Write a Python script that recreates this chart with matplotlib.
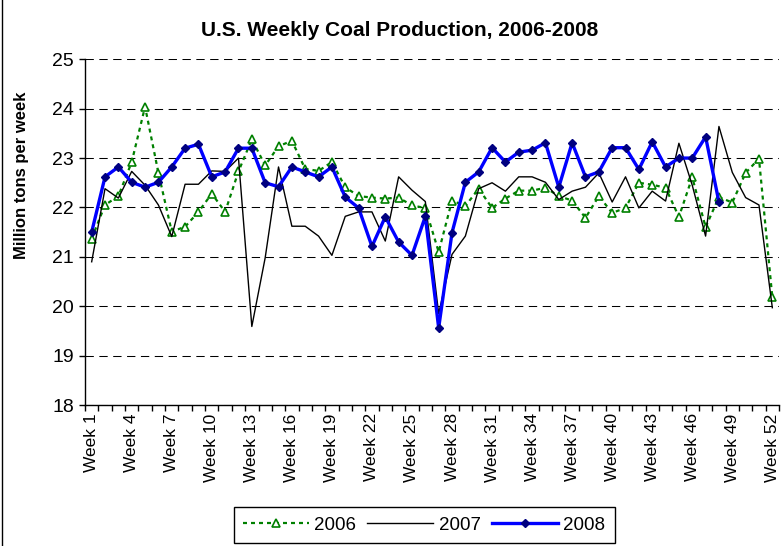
import matplotlib
matplotlib.use("Agg")
import matplotlib.pyplot as plt
from matplotlib.lines import Line2D
from matplotlib.ticker import MultipleLocator, FixedLocator
import numpy as np

plt.rcParams['font.family'] = ['Liberation Sans', 'DejaVu Sans']

weeks = [f"Week {i}" for i in range(1, 53)]
shown_labels = [f"Week {i}" for i in range(1, 53, 3)]

v2006 = [21.37, 22.05, 22.23, 22.92, 24.04, 22.70, 21.51, 21.61, 21.91, 22.28, 21.91, 22.73, 23.38,
         22.85, 23.24, 23.35, 22.78, 22.74, 22.92, 22.41, 22.23, 22.20, 22.18, 22.20, 22.04, 21.99,
         21.10, 22.14, 22.03, 22.38, 21.99, 22.18, 22.34, 22.34, 22.40, 22.23, 22.14, 21.79, 22.23,
         21.89, 21.99, 22.50, 22.46, 22.40, 21.81, 22.61, 21.60, 22.21, 22.10, 22.70, 22.99, 20.18]

v2007 = [20.90, 22.38, 22.19, 22.73, 22.45, 22.05, 21.41, 22.47, 22.47, 22.74, 22.73, 23.00, 19.59,
         20.98, 22.82, 21.62, 21.62, 21.42, 21.03, 21.82, 21.91, 21.91, 21.32, 22.62, 22.35, 22.12,
         19.85, 21.05, 21.42, 22.38, 22.50, 22.33, 22.62, 22.62, 22.51, 22.16, 22.33, 22.41, 22.70,
         22.11, 22.62, 21.99, 22.33, 22.13, 23.30, 22.45, 21.42, 23.64, 22.71, 22.20, 22.05, 19.97]

v2008 = [21.50, 22.62, 22.82, 22.51, 22.41, 22.51, 22.82, 23.20, 23.28, 22.62, 22.72, 23.20, 23.20,
         22.50, 22.42, 22.82, 22.72, 22.62, 22.82, 22.21, 21.99, 21.21, 21.81, 21.30, 21.03, 21.82,
         19.56, 21.49, 22.51, 22.72, 23.21, 22.92, 23.12, 23.16, 23.31, 22.41, 23.31, 22.62, 22.72,
         23.21, 23.21, 22.77, 23.33, 22.82, 23.00, 23.00, 23.43, 22.11]

W, H = 781, 546
fig = plt.figure(figsize=(W / 100, H / 100), dpi=100)
fig.patch.set_facecolor('white')

L, R, T, B = 85, 779, 59.3, 405
ax = fig.add_axes([L / W, 1 - B / H, (R - L) / W, (B - T) / H])

x_all = np.arange(len(weeks))
ax.plot(x_all, v2006, color='#008000', ls=(0, (1.8, 1.8)), lw=1.6,
        marker='^', ms=5.5, mfc='white', mec='#008000', mew=1.2, label='2006', zorder=3)
ax.plot(x_all, v2007, color='black', lw=1.0, label='2007', zorder=4)
ax.plot(np.arange(len(v2008)), v2008, color='#0000FF', lw=2.4,
        marker='D', ms=4.4, mfc='#000080', mec='#000080', mew=1, label='2008', zorder=5)

ax.set_xlim(-0.5, len(weeks) - 0.5)
ax.set_ylim(18, 25)
ax.yaxis.set_major_locator(MultipleLocator(1))
ax.grid(axis='y', color='black', ls=(0, (8, 5.3)), lw=0.75, zorder=1)
ax.set_axisbelow(True)

ax.spines['top'].set_visible(False)
ax.spines['right'].set_visible(False)
for s in ('left', 'bottom'):
    ax.spines[s].set_linewidth(1.0)
    ax.spines[s].set_zorder(6)

major_pos = list(range(0, len(weeks), 3))
ax.xaxis.set_major_locator(FixedLocator(major_pos))
ax.set_xticklabels(shown_labels, rotation=90, fontsize=12.5, va='top', ha='center')
ax.xaxis.set_minor_locator(FixedLocator(np.arange(-0.5, len(weeks), 1.0)))
ax.tick_params(axis='x', which='major', length=0, pad=6)
ax.tick_params(axis='x', which='minor', length=4, width=1, direction='out')
ax.tick_params(axis='y', which='major', length=4, width=1, direction='out', pad=4, labelsize=14)

fig.text(22 / W, 1 - 175 / H, 'Million tons per week', rotation=90, fontsize=12,
         fontweight='bold', ha='center', va='center')
fig.text(400 / W, 1 - 30 / H, 'U.S. Weekly Coal Production, 2006-2008', fontsize=15,
         fontweight='bold', ha='center', va='center')

leg = fig.legend(loc='center', bbox_to_anchor=(424 / W, 1 - 525 / H), ncol=3,
                 fontsize=13.5, frameon=True, fancybox=False, edgecolor='black',
                 framealpha=1, handlelength=3.5, handletextpad=0.3, columnspacing=0.6,
                 borderpad=0.5, borderaxespad=0)
leg.get_frame().set_linewidth(1.0)

fig.add_artist(Line2D([1.5 / W, 1.5 / W], [0, 1], color='black', lw=1, transform=fig.transFigure))

fig.savefig('out.png', dpi=100)
